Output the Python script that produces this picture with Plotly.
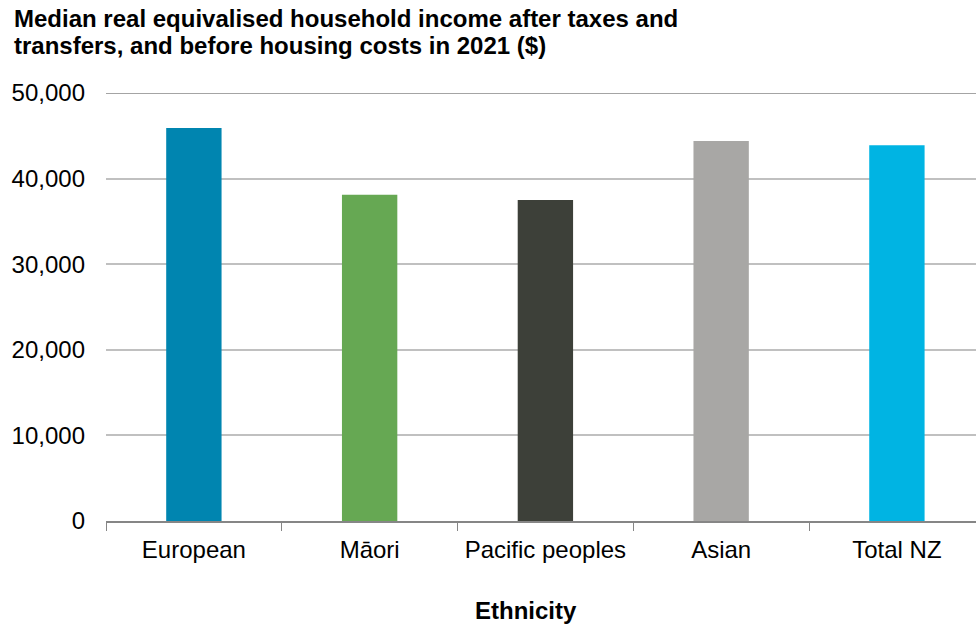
import plotly.graph_objects as go

categories = ["European", "Māori", "Pacific peoples", "Asian", "Total NZ"]
values = [45900, 38100, 37500, 44400, 43900]
colors = ["#0085b0", "#66a853", "#3d4039", "#a8a7a5", "#00b4e3"]
y_ticks = [0, 10000, 20000, 30000, 40000, 50000]
y_tick_labels = ["0", "10,000", "20,000", "30,000", "40,000", "50,000"]
title_lines = ["Median real equivalised household income after taxes and",
               "transfers, and before housing costs in 2021 ($)"]
x_title = "Ethnicity"

fig = go.Figure(go.Bar(x=categories, y=values, marker=dict(color=colors, line=dict(width=0)),
                       width=0.315))

font_family = "Liberation Sans, Arial, sans-serif"
fig.update_layout(
    width=976, height=624,
    margin=dict(l=106, r=0, t=93, b=103),
    paper_bgcolor="white", plot_bgcolor="white",
    font=dict(family=font_family, color="black", size=24),
    showlegend=False,
    xaxis=dict(type="category", range=[-0.5, 4.45], showline=True, linecolor="#868686", linewidth=2,
               mirror=False, ticks="outside", tickson="boundaries", ticklen=8, tickcolor="#868686",
               tickwidth=1, showgrid=False, tickfont=dict(size=24), ticklabelstandoff=6),
    yaxis=dict(range=[0, 50000], tickvals=y_ticks, ticktext=y_tick_labels, showgrid=True,
               gridcolor="#c0c0c0", gridwidth=1.5, zeroline=False, showline=False, ticks="",
               tickfont=dict(size=24), ticklabelstandoff=20),
    annotations=[
        dict(text="<b>%s</b>" % title_lines[0], x=-0.108, xref="paper", xanchor="left",
             y=1.175, yref="paper", yanchor="middle", showarrow=False, font=dict(size=24)),
        dict(text="<b>%s</b>" % title_lines[1], x=-0.108, xref="paper", xanchor="left",
             y=1.112, yref="paper", yanchor="middle", showarrow=False, font=dict(size=24)),
        dict(text="<b>%s</b>" % x_title, x=0.483, xref="paper", y=-0.208, yref="paper",
             yanchor="middle", showarrow=False, font=dict(size=24)),
    ],
    shapes=[dict(type="line", xref="paper", yref="y", x0=0, x1=1, y0=y_ticks[-1], y1=y_ticks[-1],
                 line=dict(color="#868686", width=1.5))],
)

fig.write_html("out.html", config={"displayModeBar": False},
               post_script="document.body.style.margin='0';")
